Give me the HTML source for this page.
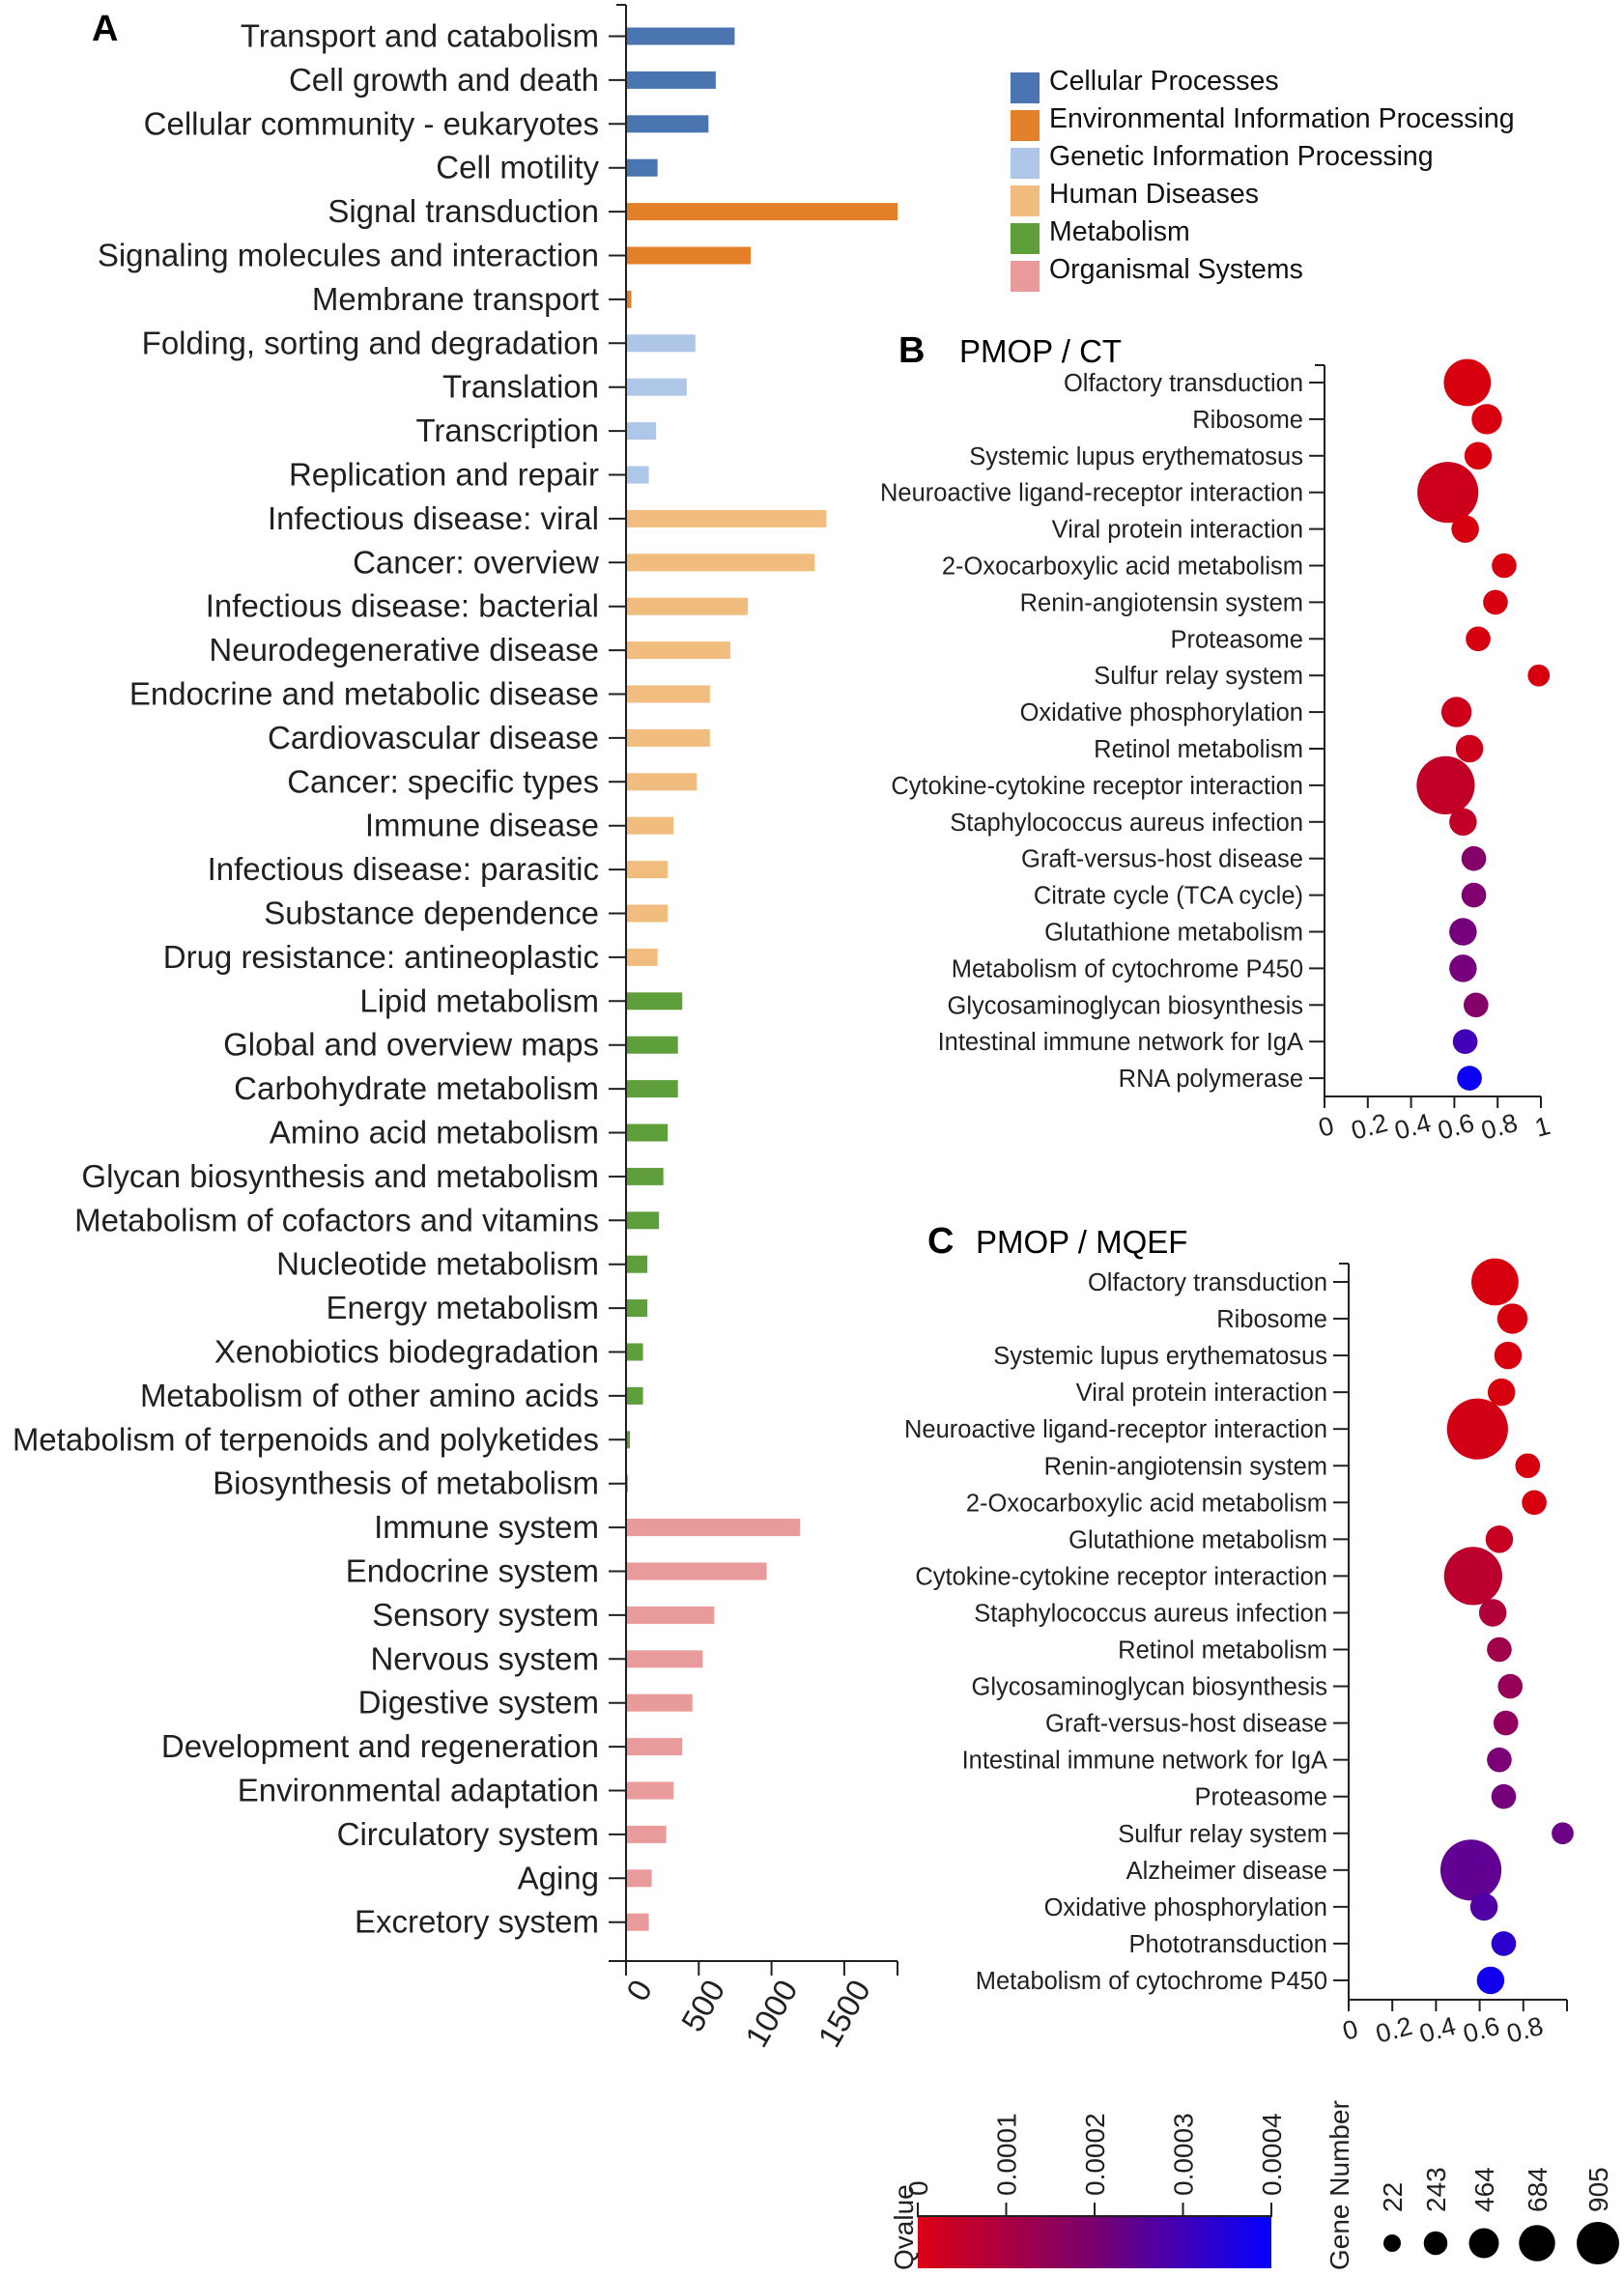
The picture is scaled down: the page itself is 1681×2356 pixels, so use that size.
<!DOCTYPE html>
<html><head><meta charset="utf-8">
<style>
html,body{margin:0;padding:0;background:#fff;}
svg{display:block;font-family:"Liberation Sans",Arial,sans-serif;}
</style></head>
<body>
<svg id="fig" width="1681" height="2356" viewBox="0 0 1681 2356" xmlns="http://www.w3.org/2000/svg">
<text x="95" y="42" font-size="38" font-weight="bold">A</text>
<text x="930" y="375" font-size="38" font-weight="bold">B</text>
<text x="993" y="375" font-size="33">PMOP / CT</text>
<text x="960" y="1297" font-size="38" font-weight="bold">C</text>
<text x="1010" y="1297" font-size="33">PMOP / MQEF</text>
<g id="gA"></g>
<g id="gLeg"></g>
<g id="gB"></g>
<g id="gC"></g>
<g id="gKey"></g>
</svg>
<script>
const NS="http://www.w3.org/2000/svg";
// ---- Panel A data ----
const aCategories=["Transport and catabolism","Cell growth and death","Cellular community - eukaryotes","Cell motility","Signal transduction","Signaling molecules and interaction","Membrane transport","Folding, sorting and degradation","Translation","Transcription","Replication and repair","Infectious disease: viral","Cancer: overview","Infectious disease: bacterial","Neurodegenerative disease","Endocrine and metabolic disease","Cardiovascular disease","Cancer: specific types","Immune disease","Infectious disease: parasitic","Substance dependence","Drug resistance: antineoplastic","Lipid metabolism","Global and overview maps","Carbohydrate metabolism","Amino acid metabolism","Glycan biosynthesis and metabolism","Metabolism of cofactors and vitamins","Nucleotide metabolism","Energy metabolism","Xenobiotics biodegradation","Metabolism of other amino acids","Metabolism of terpenoids and polyketides","Biosynthesis of metabolism","Immune system","Endocrine system","Sensory system","Nervous system","Digestive system","Development and regeneration","Environmental adaptation","Circulatory system","Aging","Excretory system"];
const aValues=[740,610,560,210,1860,850,30,470,410,200,150,1370,1290,830,710,570,570,480,320,280,280,210,380,350,350,280,250,220,140,140,110,110,20,5,1190,960,600,520,450,380,320,270,170,150];
const aGroups=[0,0,0,0,1,1,1,2,2,2,2,3,3,3,3,3,3,3,3,3,3,3,4,4,4,4,4,4,4,4,4,4,4,4,5,5,5,5,5,5,5,5,5,5];
const aTicks=[0,500,1000,1500];
const groupNames=["Cellular Processes","Environmental Information Processing","Genetic Information Processing","Human Diseases","Metabolism","Organismal Systems"];
const groupColors=["#4a75b0","#e5802a","#aec6e8","#f0bd7e","#5f9f3b","#e99a9a"];
// ---- Panel B data ----
const bTerms=["Olfactory transduction","Ribosome","Systemic lupus erythematosus","Neuroactive ligand-receptor interaction","Viral protein interaction","2-Oxocarboxylic acid metabolism","Renin-angiotensin system","Proteasome","Sulfur relay system","Oxidative phosphorylation","Retinol metabolism","Cytokine-cytokine receptor interaction","Staphylococcus aureus infection","Graft-versus-host disease","Citrate cycle (TCA cycle)","Glutathione metabolism","Metabolism of  cytochrome P450","Glycosaminoglycan biosynthesis ","Intestinal immune network for IgA","RNA polymerase"];
const bRich=[0.66,0.75,0.71,0.57,0.65,0.83,0.79,0.71,0.99,0.61,0.67,0.56,0.64,0.69,0.69,0.64,0.64,0.70,0.65,0.67];
const bGenes=[630,296,240,907,240,185,185,185,130,296,240,850,240,185,185,240,240,185,185,185];
const bQ=[0,0,0,0.00002,0,0,0,0,0,0.00002,0.00002,0.00004,0.00004,0.00015,0.00016,0.00018,0.00018,0.00015,0.00028,0.00038];
// ---- Panel C data ----
const cTerms=["Olfactory transduction","Ribosome","Systemic lupus erythematosus","Viral protein interaction","Neuroactive ligand-receptor interaction","Renin-angiotensin system","2-Oxocarboxylic acid metabolism","Glutathione metabolism","Cytokine-cytokine receptor interaction","Staphylococcus aureus infection","Retinol metabolism","Glycosaminoglycan biosynthesis","Graft-versus-host disease","Intestinal immune network for IgA","Proteasome","Sulfur relay system","Alzheimer disease","Oxidative phosphorylation","Phototransduction","Metabolism of cytochrome P450"];
const cRich=[0.67,0.75,0.73,0.70,0.59,0.82,0.85,0.69,0.57,0.66,0.69,0.74,0.72,0.69,0.71,0.98,0.56,0.62,0.71,0.65];
const cGenes=[630,296,240,240,907,185,185,240,850,240,185,185,185,185,185,130,907,240,185,240];
const cQ=[0,0,0,0,0.00001,0,0,0.00003,0.00005,0.00007,0.0001,0.00012,0.00013,0.00017,0.00018,0.0002,0.00022,0.00025,0.00032,0.00037];
const bTickLabels=["0","0.2","0.4","0.6","0.8","1"];
const cTickLabels=["0","0.2","0.4","0.6","0.8",""];
const qTicks=["0","0.0001","0.0002","0.0003","0.0004"];
const sizeKeys=[22,243,464,684,905];

function mk(tag,attrs,parent,txt){const e=document.createElementNS(NS,tag);for(const k in attrs)e.setAttribute(k,attrs[k]);if(txt!==undefined)e.textContent=txt;parent.appendChild(e);return e;}
const ink="#231f20";
// ---- Panel A ----
const gA=document.getElementById("gA");
const ax0=648, axK=75.3/500, ay0=37.5, ayStep=45.4, aBottom=2030;
const xA=v=>ax0+v*axK, yA=i=>ay0+i*ayStep;
let e;
e=mk("line",{x1:ax0,y1:5,x2:ax0,y2:aBottom,stroke:ink,"stroke-width":2},gA);

e=mk("line",{x1:ax0-10,y1:5,x2:ax0,y2:5,stroke:ink,"stroke-width":2},gA);
e=mk("line",{x1:ax0-18,y1:aBottom,x2:929,y2:aBottom,stroke:ink,"stroke-width":2},gA);

e=mk("line",{x1:929,y1:aBottom,x2:929,y2:aBottom+15,stroke:ink,"stroke-width":2},gA);
aTicks.forEach(t=>{const x=xA(t);
 mk("line",{x1:x,y1:aBottom,x2:x,y2:aBottom+15,stroke:ink,"stroke-width":2},gA);
 e=mk("text",{x:0,y:0,"font-size":33,"text-anchor":"end",fill:ink,transform:`translate(${x+28},${aBottom+28}) rotate(-60)`},gA,String(t));
 
});
aCategories.forEach((c,i)=>{const y=yA(i);
 mk("line",{x1:ax0-18,y1:y,x2:ax0,y2:y,stroke:ink,"stroke-width":2},gA);
 e=mk("text",{x:620,y:y+11,"font-size":33,"text-anchor":"end",fill:ink},gA,c);
 
 e=mk("rect",{x:ax0+1,y:y-9,width:Math.max(0,xA(aValues[i])-ax0),height:18,fill:groupColors[aGroups[i]]},gA);
 
});
// ---- Legend ----
const gLeg=document.getElementById("gLeg");
groupNames.forEach((n,i)=>{const y=93+i*39;
 e=mk("rect",{x:1046,y:y-18,width:30,height:32,fill:groupColors[i]},gLeg);
 
 e=mk("text",{x:1086,y:y,"font-size":28.5,fill:"#111"},gLeg,n);
 
});
// ---- Bubble helpers ----
function qColor(q){const t=Math.max(0,Math.min(1,q/0.0004));
 const r=Math.round(215*(1-t)),g=0,b=Math.round(15+240*t);return `rgb(${r},${g},${b})`;}
const rOf=g=>8+0.026*g;
function bubble(gid,terms,rich,genes,qs,cfg){
 const g=document.getElementById(gid);
 const x=v=>cfg.x0+v*cfg.k, y=i=>cfg.y0+i*cfg.step;
 let e=mk("line",{x1:cfg.x0,y1:cfg.top,x2:cfg.x0,y2:cfg.bottom,stroke:ink,"stroke-width":2},g);
 
 mk("line",{x1:cfg.x0-10,y1:cfg.top,x2:cfg.x0,y2:cfg.top,stroke:ink,"stroke-width":2},g);
 e=mk("line",{x1:cfg.x0,y1:cfg.bottom,x2:x(1),y2:cfg.bottom,stroke:ink,"stroke-width":2},g);
 
 cfg.ticks.forEach((lab,i)=>{const v=i*0.2,xx=x(v);
  mk("line",{x1:xx,y1:cfg.bottom,x2:xx,y2:cfg.bottom+12,stroke:ink,"stroke-width":2},g);
  if(lab){e=mk("text",{x:0,y:0,"font-size":27,"text-anchor":"middle",fill:ink,transform:`translate(${xx+4},${cfg.bottom+40}) rotate(-15)`},g,lab);
  }
 });
 terms.forEach((t,i)=>{const yy=y(i);
  mk("line",{x1:cfg.x0-16,y1:yy,x2:cfg.x0,y2:yy,stroke:ink,"stroke-width":2},g);
  e=mk("text",{x:cfg.x0-22,y:yy+9,"font-size":25.5,"text-anchor":"end",fill:ink},g,t);
  
  e=mk("circle",{cx:x(rich[i]),cy:yy,r:rOf(genes[i]),fill:qColor(qs[i])},g);
  
 });
}
bubble("gB",bTerms,bRich,bGenes,bQ,{x0:1371,k:224,y0:396,step:37.9,top:378,bottom:1135,ticks:bTickLabels});
bubble("gC",cTerms,cRich,cGenes,cQ,{x0:1396,k:226,y0:1327,step:38.05,top:1308,bottom:2070,ticks:cTickLabels});
// ---- Color bar & size key ----
const gK=document.getElementById("gKey");
const defs=mk("defs",{},gK);
const lg=mk("linearGradient",{id:"qgrad",x1:"0",x2:"1",y1:"0",y2:"0"},defs);
mk("stop",{offset:"0","stop-color":"rgb(220,0,20)"},lg);
mk("stop",{offset:"0.5","stop-color":"rgb(120,0,110)"},lg);
mk("stop",{offset:"1","stop-color":"rgb(5,0,255)"},lg);
e=mk("rect",{x:950,y:2295,width:366,height:53,fill:"url(#qgrad)"},gK);

mk("line",{x1:950,y1:2294,x2:1316,y2:2294,stroke:ink,"stroke-width":2},gK);
qTicks.forEach((t,i)=>{const xx=950+i*366/4;
 mk("line",{x1:xx,y1:2280,x2:xx,y2:2295,stroke:ink,"stroke-width":2},gK);
 e=mk("text",{x:0,y:0,"font-size":28,fill:ink,transform:`translate(${xx+10},${2273}) rotate(-90)`},gK,t);
 
});
e=mk("text",{x:0,y:0,"font-size":28,fill:ink,transform:`translate(945,2350) rotate(-90)`},gK,"Qvalue");

e=mk("text",{x:0,y:0,"font-size":28,fill:ink,transform:`translate(1396,2350) rotate(-90)`},gK,"Gene Number");

const keyX=[1441,1486,1536,1591,1654];
sizeKeys.forEach((s,i)=>{
 const r=9+13*(s-22)/883;
 e=mk("circle",{cx:keyX[i],cy:2322,r:r,fill:"#000"},gK);
 
 e=mk("text",{x:0,y:0,"font-size":28,fill:ink,transform:`translate(${keyX[i]+10},2290) rotate(-90)`},gK,String(s));
 
});
</script>
</body></html>
